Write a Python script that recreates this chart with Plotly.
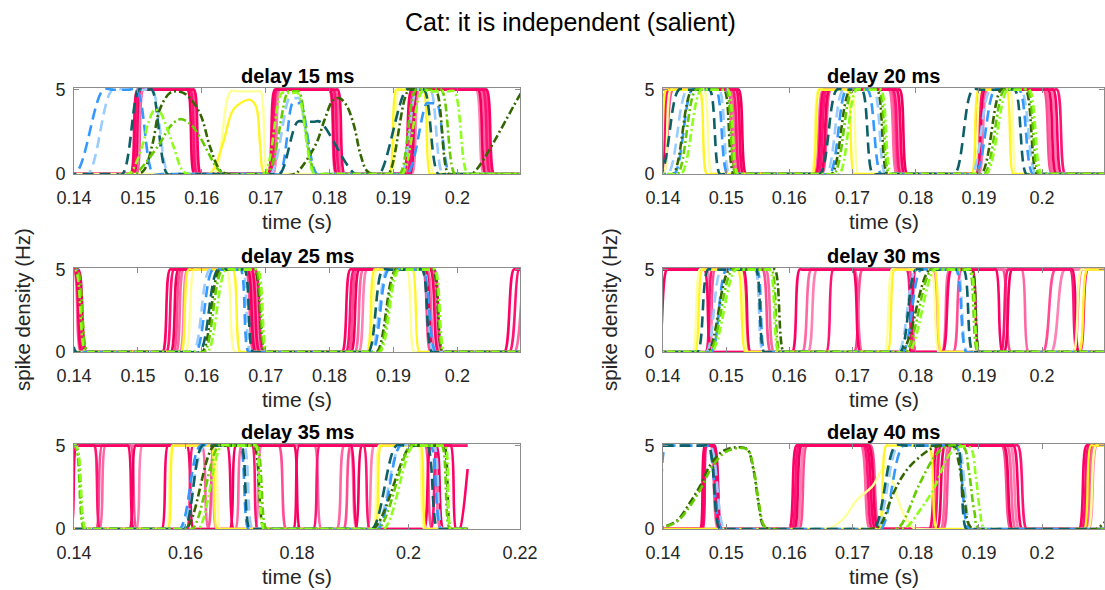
import plotly.graph_objects as go

# ---------------- data ----------------
FIG_TITLE = "Cat: it is independent (salient)"
PANEL_TITLES = ["delay 15 ms", "delay 20 ms", "delay 25 ms",
                "delay 30 ms", "delay 35 ms", "delay 40 ms"]
X_LABEL = "time (s)"
Y_LABEL = "spike density (Hz)"

XTICKS_A = [0.14, 0.15, 0.16, 0.17, 0.18, 0.19, 0.2]
XTICKTEXT_A = ["0.14", "0.15", "0.16", "0.17", "0.18", "0.19", "0.2"]
XTICKS_B = [0.14, 0.16, 0.18, 0.2, 0.22]
XTICKTEXT_B = ["0.14", "0.16", "0.18", "0.2", "0.22"]
YTICKS = [0, 5]
YTICKTEXT = ["0", "5"]
T_END = 0.2106   # last sample time of every spike-density trace

# Each neuron: list of activity episodes.
#   5-tuple  -> pulse (rise start, rise end, fall start, fall end, peak Hz); fall None = active at end
#   list     -> explicit (time, Hz) samples read off an irregular bump
D15 = {
    "pk1": [(0.1489, 0.1499, 0.1588, 0.1598, 5), (0.1704, 0.1714, 0.1813, 0.1823, 5), (0.1916, 0.1928, 0.2046, 0.2057, 5)],
    "pk2": [(0.1492, 0.1502, 0.1582, 0.1592, 5), (0.1708, 0.1717, 0.1806, 0.1816, 5), (0.1922, 0.1933, 0.2040, 0.2051, 5)],
    "pk3": [(0.1494, 0.1504, 0.1578, 0.1588, 5), (0.1706, 0.1716, 0.1801, 0.1811, 5), (0.1926, 0.1937, 0.2033, 0.2044, 5)],
    "pl1": [(0.1491, 0.1502, 0.1585, 0.1596, 5), (0.1710, 0.1720, 0.1809, 0.1819, 5), (0.1919, 0.1930, 0.2037, 0.2048, 5)],
    "pl2": [(0.1496, 0.1507, 0.1580, 0.1591, 5), (0.1712, 0.1722, 0.1803, 0.1813, 5), (0.1929, 0.1940, 0.2030, 0.2041, 5)],
    "pl3": [(0.1498, 0.1508, 0.1583, 0.1593, 5), (0.1707, 0.1718, 0.1800, 0.1810, 5), (0.1924, 0.1935, 0.2043, 0.2054, 5)],
    "yl":  [[(0.1610, 0), (0.1618, 0.25), (0.1633, 1.8), (0.1649, 3.8), (0.1665, 4.3), (0.1676, 4.4), (0.1685, 4.0), (0.1691, 1.8), (0.1696, 0.15), (0.1702, 0)],
            (0.1894, 0.1904, 0.1947, 0.1957, 5)],
    "yl2": [(0.1620, 0.1645, 0.1692, 0.1703, 4.9), (0.1897, 0.1908, 0.1951, 0.1962, 5)],
    "bd":  [(0.1402, 0.1446, 0.1498, 0.1524, 5), (0.1722, 0.1742, 0.1755, 0.1780, 4.2), (0.1922, 0.1952, 0.1968, 0.1988, 4.2)],
    "bl":  [(0.1422, 0.1460, 0.1522, 0.1548, 5), (0.1708, 0.1737, 0.1752, 0.1778, 4.5), (0.1912, 0.1936, 0.1958, 0.1977, 5)],
    "bt":  [(0.1476, 0.1501, 0.1522, 0.1546, 5), (0.1722, 0.1750, 0.1785, 0.1840, 3.1), (0.1878, 0.1920, 0.1948, 0.1970, 5)],
    "gd":  [[(0.1500, 0), (0.1510, 0.25), (0.1523, 1.8), (0.1534, 3.8), (0.1550, 4.8), (0.1562, 4.9), (0.1576, 4.7), (0.1597, 3.6), (0.1613, 1.6), (0.1628, 0.25), (0.1640, 0)],
            [(0.1745, 0), (0.1753, 0.25), (0.1779, 1.8), (0.1792, 3.2), (0.1805, 4.35), (0.1815, 4.5), (0.1826, 4.1), (0.1838, 2.9), (0.1848, 1.2), (0.1858, 0.2), (0.1866, 0)],
            (0.1892, 0.1924, 0.1966, 0.1986, 5), (0.2023, 0.2102, None, None, 4.9)],
    "gm":  [[(0.1495, 0), (0.1503, 0.25), (0.1534, 1.8), (0.1550, 2.8), (0.1566, 3.25), (0.1581, 3.0), (0.1597, 2.2), (0.1623, 0.4), (0.1635, 0)],
            (0.1703, 0.1735, 0.1752, 0.1778, 4.9), (0.1910, 0.1935, 0.1975, 0.1996, 5)],
    "gl":  [[(0.1485, 0), (0.1492, 0.25), (0.1508, 1.8), (0.1516, 3.0), (0.1526, 3.8), (0.1534, 3.7), (0.1542, 3.1), (0.1556, 1.6), (0.1569, 0.25), (0.1578, 0)],
            (0.1698, 0.1725, 0.1750, 0.1776, 4.8), (0.1914, 0.1945, 0.1995, 0.2016, 4.9)],
}
D20 = {
    "pk1": [(0.1388, 0.1406, 0.1516, 0.1527, 5), (0.1642, 0.1655, 0.1770, 0.1782, 5), (0.1890, 0.1903, 0.2018, 0.2030, 5)],
    "pk2": [(0.1393, 0.1409, 0.1510, 0.1522, 5), (0.1646, 0.1659, 0.1764, 0.1776, 5), (0.1893, 0.1906, 0.2024, 0.2036, 5)],
    "pk3": [(0.1396, 0.1412, 0.1520, 0.1531, 5), (0.1650, 0.1663, 0.1775, 0.1786, 5), (0.1896, 0.1909, 0.2010, 0.2022, 5)],
    "pl1": [(0.1380, 0.1392, 0.1506, 0.1518, 5), (0.1640, 0.1653, 0.1758, 0.1770, 5), (0.1898, 0.1911, 0.2006, 0.2018, 5)],
    "pl2": [(0.1398, 0.1413, 0.1513, 0.1525, 5), (0.1644, 0.1657, 0.1767, 0.1779, 5), (0.1900, 0.1913, 0.2014, 0.2026, 5)],
    "pl3": [(0.1400, 0.1415, 0.1503, 0.1515, 5), (0.1652, 0.1665, 0.1761, 0.1773, 5), (0.1892, 0.1905, 0.2003, 0.2015, 5)],
    "yl":  [(0.1394, 0.1405, 0.1458, 0.1469, 5), (0.1637, 0.1647, 0.1692, 0.1702, 5), (0.1889, 0.1899, 0.1944, 0.1954, 5)],
    "yl2": [(0.1401, 0.1412, 0.1465, 0.1477, 5), (0.1635, 0.1646, 0.1699, 0.1709, 5), (0.1892, 0.1903, 0.1949, 0.1959, 5)],
    "bt":  [(0.1396, 0.1425, 0.1474, 0.1490, 5), (0.1649, 0.1675, 0.1715, 0.1732, 5), (0.1862, 0.1890, 0.1957, 0.1975, 5)],
    "bd":  [(0.1418, 0.1446, 0.1484, 0.1502, 5), (0.1664, 0.1690, 0.1724, 0.1745, 5), (0.1895, 0.1925, 0.1964, 0.1985, 5)],
    "bl":  [(0.1408, 0.1438, 0.1489, 0.1505, 5), (0.1659, 0.1685, 0.1734, 0.1752, 5), (0.1889, 0.1918, 0.1967, 0.1990, 5)],
    "gd":  [(0.1416, 0.1446, 0.1497, 0.1512, 5), (0.1667, 0.1696, 0.1739, 0.1755, 5), (0.1904, 0.1935, 0.1974, 0.1992, 5)],
    "gm":  [(0.1423, 0.1452, 0.1500, 0.1515, 5), (0.1671, 0.1700, 0.1742, 0.1758, 5), (0.1909, 0.1940, 0.1977, 0.1995, 5)],
    "gl":  [(0.1429, 0.1460, 0.1503, 0.1518, 5), (0.1679, 0.1706, 0.1745, 0.1761, 5), (0.1912, 0.1945, 0.1980, 0.1999, 5)],
}
D25 = {
    "pk1": [(0.130, 0.131, 0.1401, 0.1412, 5), (0.1539, 0.1550, 0.1678, 0.1690, 5), (0.1820, 0.1832, 0.1958, 0.1970, 5), (0.2074, 0.2088, None, None, 5)],
    "pk2": [(0.130, 0.131, 0.1404, 0.1416, 5), (0.1545, 0.1556, 0.1684, 0.1696, 5), (0.1826, 0.1838, 0.1964, 0.1976, 5), (0.2082, 0.2096, None, None, 5)],
    "pk3": [(0.130, 0.131, 0.1407, 0.1419, 5), (0.1552, 0.1563, 0.1672, 0.1684, 5), (0.1834, 0.1846, 0.1950, 0.1962, 5)],
    "pl1": [(0.130, 0.131, 0.1400, 0.1410, 5), (0.1560, 0.1571, 0.1675, 0.1687, 5), (0.1840, 0.1852, 0.1953, 0.1965, 5), (0.2090, 0.2104, None, None, 5)],
    "pl2": [(0.130, 0.131, 0.1402, 0.1414, 5), (0.1566, 0.1577, 0.1681, 0.1693, 5), (0.1846, 0.1858, 0.1960, 0.1972, 5)],
    "pl3": [(0.1556, 0.1567, 0.1669, 0.1681, 5), (0.1830, 0.1842, 0.1946, 0.1958, 5)],
    "yl":  [(0.1568, 0.1579, 0.1649, 0.1660, 5), (0.1859, 0.1870, 0.1930, 0.1940, 5)],
    "yl2": [(0.1575, 0.1588, 0.1639, 0.1651, 5), (0.1862, 0.1874, 0.1921, 0.1932, 5)],
    "bt":  [(0.130, 0.131, 0.1383, 0.1403, 5), (0.1597, 0.1625, 0.1667, 0.1680, 5), (0.1861, 0.1883, 0.1945, 0.1960, 5)],
    "bd":  [(0.1591, 0.1617, 0.1661, 0.1673, 5), (0.1867, 0.1892, 0.1946, 0.1966, 5)],
    "bl":  [(0.1587, 0.1612, 0.1664, 0.1676, 5), (0.1865, 0.1890, 0.1948, 0.1962, 5)],
    "gd":  [(0.130, 0.131, 0.1403, 0.1419, 5), (0.1601, 0.1628, 0.1683, 0.1699, 5), (0.1874, 0.1903, 0.1962, 0.1977, 5)],
    "gm":  [(0.130, 0.131, 0.1405, 0.1421, 5), (0.1604, 0.1632, 0.1685, 0.1700, 5), (0.1877, 0.1905, 0.1964, 0.1978, 5)],
    "gl":  [(0.130, 0.131, 0.1402, 0.1418, 5), (0.1609, 0.1638, 0.1688, 0.1702, 5), (0.1879, 0.1908, 0.1965, 0.1980, 5)],
}
D30 = {
    "pk1": [(0.1392, 0.1406, 0.1466, 0.1476, 5), (0.1605, 0.1616, 0.1701, 0.1712, 5), (0.1843, 0.1856, 0.1927, 0.1937, 5), (0.2060, 0.2072, None, None, 5)],
    "pk2": [(0.1468, 0.1478, 0.1525, 0.1535, 5), (0.1659, 0.1669, 0.1786, 0.1796, 5), (0.1935, 0.1946, 0.2045, 0.2055, 5)],
    "pk3": [(0.130, 0.131, 0.1528, 0.1538, 5), (0.1790, 0.1800, 0.1890, 0.1900, 5), (0.1940, 0.1952, 0.2048, 0.2058, 5)],
    "pl1": [(0.130, 0.131, 0.1563, 0.1575, 5), (0.1621, 0.1634, 0.1703, 0.1715, 5), (0.1842, 0.1853, 0.1968, 0.1978, 5), (0.2050, 0.2063, None, None, 5)],
    "pl2": [(0.130, 0.131, 0.1470, 0.1480, 5), (0.1630, 0.1643, 0.1827, 0.1838, 5), (0.2015, 0.2035, None, None, 5)],
    "pl3": [(0.1472, 0.1482, 0.1558, 0.1570, 5), (0.1703, 0.1715, 0.1790, 0.1800, 5), (0.1860, 0.1872, 0.1938, 0.1950, 5), (0.2002, 0.2020, None, None, 5)],
    "yl":  [(0.1451, 0.1462, 0.1519, 0.1530, 5), (0.1756, 0.1766, 0.1830, 0.1840, 5), (0.2059, 0.2071, None, None, 5)],
    "yl2": [(0.1447, 0.1458, 0.1523, 0.1534, 5), (0.1751, 0.1762, 0.1825, 0.1836, 5), (0.2050, 0.2062, None, None, 5)],
    "bt":  [(0.1455, 0.1471, 0.1547, 0.1560, 5), (0.1776, 0.1800, 0.1876, 0.1890, 5)],
    "bd":  [(0.1477, 0.1500, 0.1549, 0.1561, 5), (0.1780, 0.1808, 0.1864, 0.1880, 5)],
    "bl":  [(0.1469, 0.1492, 0.1546, 0.1558, 5), (0.1773, 0.1800, 0.1866, 0.1881, 5)],
    "gd":  [(0.1471, 0.1505, 0.1577, 0.1591, 5), (0.1778, 0.1822, 0.1889, 0.1901, 5)],
    "gm":  [(0.1474, 0.1510, 0.1572, 0.1585, 5), (0.1784, 0.1825, 0.1885, 0.1898, 5)],
    "gl":  [(0.1477, 0.1515, 0.1569, 0.1583, 5), (0.1789, 0.1830, 0.1887, 0.1900, 5)],
}
D35 = {
    "pk1": [(0.1395, 0.1404, 0.1497, 0.1507, 5), (0.1558, 0.1568, 0.1675, 0.1686, 5), (0.1794, 0.1803, 0.1897, 0.1908, 5), (0.2028, 0.2040, 0.2076, 0.2085, 5), (0.2092, 0.2106, None, None, 3.6)],
    "pk2": [(0.130, 0.131, 0.1437, 0.1446, 5), (0.1603, 0.1613, 0.1720, 0.1729, 5), (0.1830, 0.1840, 0.1920, 0.1930, 5), (0.2040, 0.2052, None, None, 5)],
    "pk3": [(0.1500, 0.1510, 0.1603, 0.1614, 5), (0.1680, 0.1690, 0.1795, 0.1805, 5), (0.1905, 0.1916, 0.2050, 0.2062, 5)],
    "pl1": [(0.1446, 0.1456, 0.1630, 0.1641, 5), (0.1690, 0.1700, 0.1832, 0.1843, 5), (0.1872, 0.1884, 0.2045, 0.2057, 5)],
    "pl2": [(0.130, 0.131, 0.1436, 0.1447, 5), (0.1512, 0.1522, 0.1645, 0.1655, 5), (0.1725, 0.1736, 0.1895, 0.1907, 5), (0.1926, 0.1938, None, None, 5)],
    "pl3": [(0.1440, 0.1450, 0.1502, 0.1512, 5), (0.1640, 0.1652, 0.1768, 0.1780, 5), (0.1884, 0.1896, 0.2030, 0.2042, 5)],
    "yl":  [(0.1569, 0.1578, 0.1647, 0.1656, 5), (0.1941, 0.1950, 0.2022, 0.2031, 5)],
    "yl2": [(0.1566, 0.1576, 0.1652, 0.1662, 5), (0.1937, 0.1947, 0.2018, 0.2028, 5)],
    "bt":  [(0.1598, 0.1630, 0.1700, 0.1715, 5), (0.1935, 0.1978, 0.2034, 0.2052, 5)],
    "bd":  [(0.1590, 0.1626, 0.1698, 0.1713, 5), (0.1946, 0.1985, 0.2040, 0.2058, 5)],
    "bl":  [(0.1594, 0.1633, 0.1705, 0.1720, 5), (0.1942, 0.1985, 0.2046, 0.2060, 5)],
    "gd":  [(0.130, 0.131, 0.1403, 0.1420, 5), (0.1601, 0.1651, 0.1723, 0.1741, 5), (0.1937, 0.2004, 0.2064, 0.2076, 5)],
    "gm":  [(0.130, 0.131, 0.1402, 0.1418, 5), (0.1612, 0.1660, 0.1728, 0.1745, 5), (0.1946, 0.2004, 0.2060, 0.2074, 5)],
    "gl":  [(0.130, 0.131, 0.1404, 0.1421, 5), (0.1623, 0.1665, 0.1726, 0.1740, 5), (0.1956, 0.2008, 0.2066, 0.2076, 5)],
}
D40 = {
    "pk1": [(0.1461, 0.1467, 0.1480, 0.1491, 5), (0.1600, 0.1611, 0.1722, 0.1736, 5), (0.1822, 0.1834, 0.1955, 0.1968, 5), (0.2059, 0.2070, None, None, 5)],
    "pk2": [(0.1463, 0.1469, 0.1478, 0.1489, 5), (0.1604, 0.1615, 0.1718, 0.1731, 5), (0.1828, 0.1840, 0.1962, 0.1975, 5), (0.2063, 0.2074, None, None, 5)],
    "pk3": [(0.1459, 0.1466, 0.1482, 0.1493, 5), (0.1608, 0.1619, 0.1726, 0.1740, 5), (0.1834, 0.1846, 0.1940, 0.1953, 5), (0.2066, 0.2078, None, None, 5)],
    "pl1": [(0.1462, 0.1468, 0.1476, 0.1487, 5), (0.1606, 0.1618, 0.1714, 0.1727, 5), (0.1840, 0.1852, 0.1945, 0.1958, 5), (0.2070, 0.2082, None, None, 5)],
    "pl2": [(0.1612, 0.1624, 0.1720, 0.1733, 5), (0.1826, 0.1838, 0.1950, 0.1963, 5), (0.2074, 0.2086, None, None, 5)],
    "pl3": [(0.1616, 0.1627, 0.1729, 0.1742, 5), (0.1844, 0.1856, 0.1937, 0.1950, 5)],
    "yl":  [(0.1742, 0.1753, 0.1822, 0.1833, 5), (0.2067, 0.2077, None, None, 5)],
    "yl2": [[(0.1650, 0), (0.1664, 0.05), (0.1685, 0.6), (0.1706, 1.7), (0.1732, 2.6), (0.1750, 3.7), (0.1758, 3.5), (0.1769, 2.1), (0.1782, 0.8), (0.1797, 0.05), (0.1805, 0)],
            (0.2073, 0.2085, None, None, 5)],
    "bd":  [(0.1390, 0.1404, 0.1471, 0.1492, 5), (0.1745, 0.1780, 0.1864, 0.1884, 5)],
    "bl":  [(0.130, 0.131, 0.1475, 0.1497, 5), (0.1738, 0.1772, 0.1867, 0.1888, 5)],
    "bt":  [(0.130, 0.131, 0.1472, 0.1490, 5), (0.1734, 0.1768, 0.1866, 0.1880, 5)],
    "gd":  [[(0.1390, 0), (0.1400, 0.1), (0.1422, 0.5), (0.1443, 1.6), (0.1459, 2.6), (0.1475, 3.85), (0.1496, 4.7), (0.1517, 4.9), (0.1533, 4.8), (0.1543, 3.6), (0.1551, 1.6), (0.1559, 0.2), (0.1570, 0)],
            [(0.1728, 0), (0.1743, 0.2), (0.1764, 2.1), (0.1785, 3.5), (0.1812, 4.5), (0.1833, 4.95), (0.1860, 4.95), (0.1868, 4.0), (0.1878, 1.5), (0.1890, 0)],
            (0.2086, 0.2106, None, None, 0.7)],
    "gm":  [[(0.1392, 0), (0.1402, 0.1), (0.1424, 0.5), (0.1445, 1.5), (0.1461, 2.5), (0.1477, 3.7), (0.1498, 4.6), (0.1518, 4.85), (0.1534, 4.75), (0.1544, 3.5), (0.1552, 1.5), (0.1560, 0.2), (0.1571, 0)],
            [(0.1768, 0), (0.1778, 0.3), (0.1806, 2.7), (0.1833, 4.5), (0.1849, 4.95), (0.1875, 4.95), (0.1884, 3.5), (0.1893, 1.0), (0.1901, 0)]],
    "gl":  [[(0.1778, 0), (0.1788, 0.2), (0.1808, 1.2), (0.1827, 2.3), (0.1854, 4.5), (0.1868, 4.9), (0.1886, 4.9), (0.1895, 3.2), (0.1902, 1.0), (0.1910, 0)]],
}

# ---------------- styles ----------------
DRAW_ORDER = ["pl3", "pl2", "pl1", "pk3", "pk2", "pk1", "yl2", "yl", "bl", "bd", "bt", "gd", "gm", "gl"]
STYLE = {
    "pk1": ("#FF0066", "solid", 2.6),
    "pk2": ("#FF1475", "solid", 2.6),
    "pk3": ("#F2005E", "solid", 2.6),
    "pl1": ("#FF66A3", "solid", 2.6),
    "pl2": ("#FF80B4", "solid", 2.6),
    "pl3": ("#FF4D94", "solid", 2.6),
    "yl":  ("#FFF526", "solid", 2.4),
    "yl2": ("#FFFF99", "solid", 2.4),
    "bd":  ("#3399FF", "11px,6px", 2.6),
    "bl":  ("#99CCFF", "11px,6px", 2.6),
    "bt":  ("#0D6066", "11px,6px", 2.6),
    "gd":  ("#336600", "8px,3px,2px,3px", 2.6),
    "gm":  ("#66CC00", "8px,3px,2px,3px", 2.6),
    "gl":  ("#8CFF1A", "8px,3px,2px,3px", 2.6),
}
FONT = "Liberation Sans, Arial, sans-serif"
AX_COLOR = "#8C8C8C"
TXT_COLOR = "#262626"

W, H = 1105, 590
# panel boxes in pixels: (left, right, top, bottom)
BOXES = [(74, 520, 88, 174), (663, 1104, 88, 174),
         (74, 520, 268, 352), (663, 1104, 268, 352),
         (74, 520, 444, 529), (663, 1104, 444, 529)]
PANEL_DATA = [D15, D20, D25, D30, D35, D40]
XRANGES = [[0.14, 0.2098], [0.14, 0.2098], [0.14, 0.2098], [0.14, 0.2098], [0.14, 0.22], [0.14, 0.2098]]
XTICKSETS = [(XTICKS_A, XTICKTEXT_A)] * 4 + [(XTICKS_B, XTICKTEXT_B), (XTICKS_A, XTICKTEXT_A)]


def episode_start(ep):
    return ep[0][0] if isinstance(ep, list) else ep[0]


def pulse_path(episodes, t0=0.128, t_end=T_END, hf=0.5):
    xs, ys = [t0], [0.0]

    def add(x, y):
        if x > xs[-1] + 1e-7 and x <= t_end + 1e-9:
            xs.append(x)
            ys.append(y)

    n = len(episodes)
    open_end = False
    for i, ep in enumerate(episodes):
        if isinstance(ep, list):          # explicit samples
            for (tx, vy) in ep:
                add(tx, vy)
            continue
        r0, r1, f0, f1, p = ep
        rw = r1 - r0
        a = min(hf * rw, 0.45 * (r0 - xs[-1]))
        if a > 0:
            add(r0 - a, 0.0)
        add(r0, 0.0)
        add(r1, p)
        if f0 is None:
            b = min(hf * rw, 0.3 * (t_end - r1))
            if b > 0:
                add(r1 + b, p)
            add(t_end, p)
            open_end = True
            break
        fw = f1 - f0
        plat = f0 - r1
        if plat > 1e-6:
            b = min(hf * rw, 0.3 * plat)
            c = min(hf * fw, 0.3 * plat)
            add(r1 + b, p)
            add(f0 - c, p)
            add(f0, p)
        add(f1, 0.0)
        nxt = episode_start(episodes[i + 1]) if i + 1 < n else t_end
        d = min(hf * fw, 0.45 * (nxt - f1))
        if d > 0:
            add(f1 + d, 0.0)
    if not open_end:
        add(t_end, 0.0)
    return xs, ys


fig = go.Figure()
layout = dict(template="none", width=W, height=H, margin=dict(l=0, r=0, t=0, b=0, pad=0, autoexpand=False),
              paper_bgcolor="white", plot_bgcolor="white", showlegend=False,
              font=dict(family=FONT, color=TXT_COLOR))
annotations = []

for k, (data, box, xr, (tv, tt)) in enumerate(zip(PANEL_DATA, BOXES, XRANGES, XTICKSETS), start=1):
    l, r, t, b = box
    xa = "x" if k == 1 else f"x{k}"
    ya = "y" if k == 1 else f"y{k}"
    for key in DRAW_ORDER:
        if key not in data:
            continue
        xs, ys = pulse_path(data[key])
        col, dash, wid = STYLE[key]
        fig.add_trace(go.Scatter(x=xs, y=ys, mode="lines", xaxis=xa, yaxis=ya,
                                 line=dict(color=col, dash=dash, width=wid, shape="spline",
                                           smoothing=1.0, simplify=False),
                                 hoverinfo="skip"))
    common = dict(showline=True, mirror="ticks", linecolor=AX_COLOR, linewidth=1,
                  ticks="inside", ticklen=5, tickcolor=AX_COLOR, tickwidth=1,
                  showgrid=False, zeroline=False, automargin=False,
                  tickfont=dict(family=FONT, size=18, color=TXT_COLOR))
    layout["xaxis" if k == 1 else f"xaxis{k}"] = dict(
        domain=[l / W, r / W], anchor=ya, range=xr, tickvals=tv, ticktext=tt,
        ticklabelstandoff=7, **common)
    layout["yaxis" if k == 1 else f"yaxis{k}"] = dict(
        domain=[1 - b / H, 1 - t / H], anchor=xa, range=[0, 5.1],
        tickvals=YTICKS, ticktext=YTICKTEXT, ticklabelstandoff=4, **common)
    cx = (l + r) / 2
    annotations.append(dict(text=f"<b>{PANEL_TITLES[k-1]}</b>", x=cx / W, y=1 - (t - 12.5) / H,
                            xref="paper", yref="paper", xanchor="center", yanchor="middle",
                            showarrow=False, font=dict(size=20, color="black", family=FONT)))
    annotations.append(dict(text=X_LABEL, x=cx / W, y=1 - (b + 47) / H,
                            xref="paper", yref="paper", xanchor="center", yanchor="middle",
                            showarrow=False, font=dict(size=21, color=TXT_COLOR, family=FONT)))

for xpx in (22, 609):
    annotations.append(dict(text=Y_LABEL, x=xpx / W, y=1 - 310 / H, textangle=-90,
                            xref="paper", yref="paper", xanchor="center", yanchor="middle",
                            showarrow=False, font=dict(size=20.5, color=TXT_COLOR, family=FONT)))

annotations.append(dict(text=FIG_TITLE, x=570 / W, y=1 - 22 / H, xref="paper", yref="paper",
                        xanchor="center", yanchor="middle", showarrow=False,
                        font=dict(size=25, color="black", family=FONT)))
layout["annotations"] = annotations
fig.update_layout(**layout)
fig.write_html("out.html")
